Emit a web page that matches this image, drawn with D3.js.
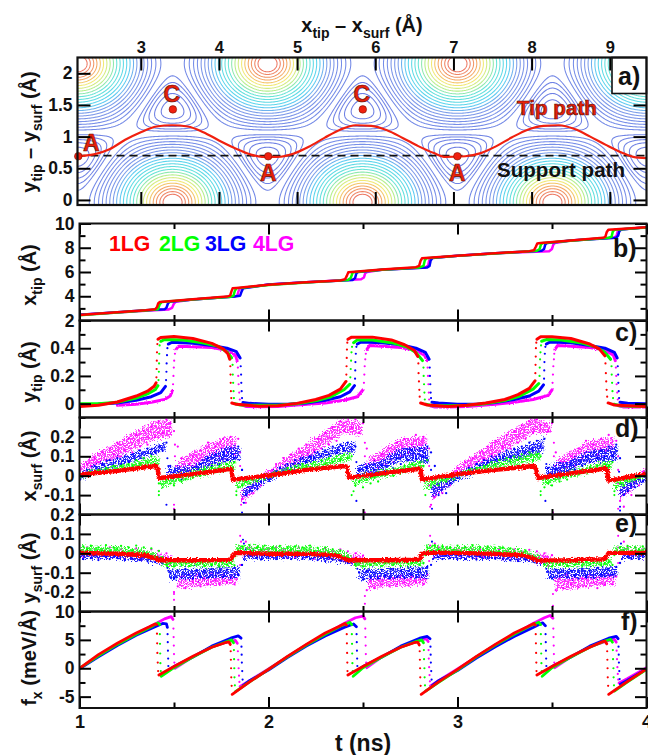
<!DOCTYPE html>
<html><head><meta charset="utf-8">
<script src="https://cdn.jsdelivr.net/npm/d3@7/dist/d3.min.js"></script>
<style>html,body{margin:0;padding:0;background:#fff}svg{display:block}text{font-family:"Liberation Sans",Arial,sans-serif;font-weight:bold;fill:#111}</style>
</head><body><div id="c"></div>
<script>
// ---------- panel a: substrate lattice read from the contour map ----------
// The corrugation map is rendered from a lattice model whose parameters were measured on the picture.
const latticePeak=[3.40,-0.03], latticeA=2.43, latticeH=2.19;
const contourLevels=[.015,.035,.055,.075,.095,.144,.177,.214,.253,.295,.34,.386,.433,.482,.531,.58,.628,.676,.722,.766,.807,.846,.88,.912,.938,.961,.978];
const contourStops=[0,.38,.5,.68,.76,.85,.9,1];
const contourColors=["#5c6fe0","#6f8fe8","#45cdf0","#55e0d0","#a8ec80","#f2e665","#f4a653","#e85a55"];
const tipPathX=[2.19,2.4,2.6,2.8,3.0,3.2,3.4,3.6,3.8,4.0,4.2,4.4,4.55,4.75,4.95,5.15,5.35,5.55,5.75,5.95,6.15,6.35,6.55,6.75,6.9,7.15,7.35,7.55,7.75,7.95,8.15,8.35,8.55,8.75,8.95,9.15,9.3,9.47];
const tipPathY=[.69,.72,.8,.95,1.07,1.16,1.18,1.16,1.07,.94,.82,.72,.68,.68,.73,.84,.98,1.11,1.18,1.17,1.1,.98,.85,.74,.68,.69,.74,.85,.99,1.11,1.17,1.18,1.12,1.0,.87,.75,.68,.66];
const supportY=0.7;
const markerX=[2.2,4.63,7.05,3.41,5.84], markerY=[.69,.69,.69,1.43,1.43];
const markerName=["A","A","A","C","C"], markerDX=[13,0,0,-1,-1], markerDY=[-5,25,25,-7,-7];
const xTopTicks=[3,4,5,6,7,8,9], yTopTicks=[0,.5,1,1.5,2];

// ---------- time series (flat t,v lists; one sub-list per stick or slip segment) ----------
const seriesColors=["#ff00ff","#0000ff","#00ff00","#ff0000"];
const legendNames=["1LG","2LG","3LG","4LG"], legendColors=["#ff0000","#00ff00","#0000ff","#ff00ff"], legendX=[109,159,205,253];
const b_1LG=[1,2.45,1.2,2.68,1.35,2.85,1.4,2.93,1.41,3.1,1.416,3.4,1.425,3.52,1.6,3.75,1.78,3.97,1.797,4.05,1.804,4.4,1.81,4.65,1.83,4.68,2,4.95,2.2,5.15,2.38,5.3,2.405,5.4,2.415,5.7,2.422,5.97,2.44,6.0,2.6,6.2,2.78,6.4,2.797,6.5,2.804,6.9,2.812,7.13,2.83,7.16,3,7.35,3.2,7.55,3.38,7.72,3.405,7.8,3.415,8.1,3.422,8.35,3.44,8.4,3.6,8.6,3.77,8.82,3.782,8.9,3.79,9.3,3.798,9.48,3.82,9.5,4,9.7];
const b_2LG=[1,2.43,1.2,2.65,1.35,2.83,1.415,2.93,1.425,3.35,1.435,3.52,1.6,3.73,1.8,3.96,1.815,4.05,1.822,4.45,1.83,4.65,2,4.93,2.2,5.13,2.42,5.33,2.435,5.5,2.445,5.95,2.46,6.0,2.6,6.18,2.8,6.38,2.82,6.5,2.827,6.95,2.835,7.14,3,7.33,3.2,7.53,3.42,7.75,3.435,7.9,3.442,8.3,3.455,8.4,3.6,8.58,3.8,8.82,3.815,8.9,3.822,9.35,3.83,9.48,4,9.68];
const b_3LG=[1,2.47,1.2,2.68,1.35,2.84,1.45,2.92,1.46,3.05,1.468,3.4,1.476,3.54,1.6,3.73,1.82,3.98,1.85,4.05,1.858,4.4,1.866,4.66,2,4.96,2.2,5.16,2.445,5.35,2.458,5.5,2.465,5.9,2.475,6.0,2.6,6.18,2.84,6.38,2.852,6.5,2.858,6.95,2.868,7.15,3,7.35,3.2,7.55,3.445,7.75,3.458,7.9,3.465,8.3,3.475,8.4,3.6,8.6,3.84,8.83,3.85,9,3.856,9.35,3.865,9.5,4,9.7];
const b_4LG=[1,2.47,1.2,2.66,1.35,2.8,1.47,2.9,1.49,3.05,1.5,3.4,1.51,3.55,1.6,3.73,1.82,3.98,1.835,4.05,1.842,4.45,1.85,4.66,2,4.96,2.2,5.16,2.49,5.4,2.505,5.55,2.512,5.9,2.522,6.0,2.6,6.18,2.83,6.38,2.845,6.55,2.85,6.95,2.86,7.15,3,7.35,3.2,7.55,3.485,7.72,3.5,7.9,3.507,8.25,3.515,8.4,3.6,8.6,3.83,8.85,3.842,9,3.848,9.35,3.858,9.5,4,9.7];

const c_1LG=[[1,-.02,1.1,-.012,1.2,.012,1.3,.055,1.36,.09,1.395,.125,1.405,.15],[1.415,.465,1.43,.478,1.5,.485,1.6,.47,1.7,.435,1.76,.395,1.785,.36,1.795,.32],[1.806,.005,1.83,-.005,1.95,-.018,2.05,-.015,2.15,.002,2.25,.03,2.32,.06,2.38,.105,2.41,.16],[2.42,.465,2.44,.48,2.55,.48,2.65,.46,2.72,.425,2.77,.385,2.79,.34],[2.805,.005,2.84,-.01,2.95,-.02,3.05,-.012,3.15,.005,3.25,.03,3.32,.065,3.38,.11,3.41,.165],[3.42,.465,3.44,.483,3.5,.483,3.6,.47,3.7,.43,3.75,.395,3.78,.345],[3.797,.005,3.83,-.01,3.9,-.015,4,-.02]];
const c_2LG=[[1,0,1.1,0,1.2,.01,1.3,.04,1.36,.07,1.4,.1,1.415,.13],[1.43,.45,1.45,.463,1.55,.46,1.65,.44,1.73,.415,1.78,.375,1.805,.33],[1.822,0,1.85,-.01,1.95,-.012,2.05,-.012,2.15,0,2.25,.02,2.33,.05,2.4,.1,2.43,.14],[2.45,.44,2.47,.46,2.55,.46,2.65,.44,2.73,.41,2.78,.37,2.815,.31],[2.832,-.005,2.87,-.015,2.95,-.015,3.05,-.012,3.15,0,3.25,.022,3.33,.055,3.4,.105,3.43,.145],[3.445,.45,3.47,.462,3.55,.46,3.65,.44,3.73,.41,3.78,.37,3.81,.32],[3.828,-.005,3.86,-.015,3.93,-.018,4,-.02]];
const c_3LG=[[1.1,-.002,1.2,.005,1.3,.025,1.38,.05,1.43,.08,1.455,.125],[1.47,.43,1.49,.443,1.6,.435,1.7,.42,1.78,.4,1.83,.375,1.85,.33],[1.865,.008,1.9,.002,2,-.005,2.1,-.005,2.2,.005,2.3,.025,2.38,.05,2.43,.085,2.455,.13],[2.47,.43,2.49,.445,2.6,.44,2.7,.425,2.78,.4,2.83,.37,2.85,.32],[2.865,.01,2.9,.005,3,-.005,3.1,-.005,3.2,.008,3.3,.03,3.38,.055,3.43,.09,3.455,.135],[3.47,.43,3.49,.445,3.6,.44,3.7,.42,3.78,.4,3.83,.37,3.845,.33],[3.86,.01,3.9,.003,4,0]];
const c_4LG=[[1.2,-.012,1.3,-.005,1.38,.01,1.45,.03,1.48,.055,1.49,.09],[1.51,.39,1.525,.415,1.6,.41,1.7,.405,1.78,.385,1.825,.35,1.835,.31],[1.852,-.005,1.88,-.02,1.95,-.022,2.05,-.02,2.15,-.01,2.3,.005,2.4,.025,2.47,.05,2.5,.1],[2.52,.39,2.535,.42,2.6,.415,2.7,.405,2.78,.385,2.825,.35,2.84,.31],[2.855,-.015,2.88,-.025,2.95,-.025,3.05,-.02,3.2,-.005,3.3,.01,3.4,.03,3.48,.06,3.5,.1],[3.515,.39,3.53,.42,3.6,.415,3.7,.405,3.78,.385,3.825,.35,3.835,.31],[3.852,-.015,3.88,-.025,4,-.025]];
const c_1LG_slip=[1.407,.19,1.408,.25,1.409,.31,1.41,.37,1.412,.43,1.798,.27,1.799,.21,1.8,.15,1.801,.09,1.803,.04,2.412,.21,2.413,.27,2.414,.33,2.415,.39,2.417,.44,2.793,.29,2.794,.22,2.796,.16,2.798,.1,2.8,.05,3.412,.22,3.413,.28,3.414,.34,3.415,.4,3.417,.44,3.783,.29,3.785,.22,3.787,.16,3.789,.1,3.792,.05];
const c_2LG_slip=[1.418,.17,1.42,.23,1.421,.29,1.422,.36,1.424,.42,1.81,.28,1.811,.21,1.813,.15,1.815,.09,1.817,.04,2.433,.19,2.435,.25,2.437,.31,2.439,.37,2.442,.41,2.82,.26,2.821,.2,2.823,.14,2.825,.08,2.827,.03,3.434,.2,3.435,.26,3.437,.32,3.439,.37,3.442,.42,3.815,.27,3.816,.21,3.818,.15,3.82,.09,3.823,.04];
const c_3LG_slip=[1.458,.17,1.46,.23,1.461,.29,1.463,.35,1.465,.4,1.853,.27,1.855,.21,1.856,.15,1.858,.09,1.86,.04,2.458,.18,2.459,.24,2.46,.3,2.462,.36,2.465,.41,2.853,.26,2.854,.2,2.856,.14,2.858,.08,2.86,.04,3.458,.18,3.459,.24,3.46,.3,3.462,.36,3.465,.41,3.848,.27,3.85,.21,3.851,.15,3.853,.09,3.855,.04];
const c_4LG_slip=[1.495,.14,1.497,.2,1.499,.26,1.501,.31,1.505,.36,1.838,.26,1.84,.2,1.842,.14,1.845,.08,1.848,.03,2.505,.15,2.507,.21,2.509,.27,2.512,.32,2.515,.36,2.842,.26,2.844,.2,2.846,.14,2.848,.08,2.85,.03,3.503,.15,3.505,.21,3.507,.27,3.51,.32,3.512,.36,3.838,.26,3.84,.2,3.842,.14,3.845,.08,3.848,.03];

const f_1LG=[[1,0,1.1,2.4,1.2,4.4,1.3,6.2,1.37,7.3,1.4,7.8,1.408,7.7],[1.42,-1.2,1.5,.3,1.6,2.1,1.7,3.7,1.77,4.5,1.79,4.65,1.798,4.2],[1.808,-4.6,1.9,-2.4,2,-.2,2.1,2.1,2.2,4.2,2.3,6.2,2.37,7.3,2.405,7.9,2.412,7.6],[2.42,-1.2,2.5,.3,2.6,2.1,2.7,3.7,2.77,4.5,2.79,4.6,2.798,4.1],[2.808,-4.6,2.9,-2.4,3,-.2,3.1,2.1,3.2,4.2,3.3,6.2,3.37,7.3,3.405,7.9,3.412,7.6],[3.42,-1.2,3.5,.3,3.6,2.1,3.7,3.7,3.76,4.6,3.78,4.8,3.79,4.3],[3.8,-4.6,3.9,-2.3,4,-.1]];
const f_2LG=[[1,0,1.1,2.2,1.2,4.2,1.3,6,1.38,7.3,1.415,8,1.424,7.7],[1.432,-1.4,1.5,.1,1.6,2,1.7,3.7,1.78,4.7,1.805,5,1.815,4.5],[1.825,-4.1,1.9,-2.4,2,-.2,2.1,2,2.2,4.1,2.3,6,2.38,7.4,2.43,8.1,2.44,7.7],[2.448,-1.4,2.5,.1,2.6,2,2.7,3.7,2.78,4.7,2.81,5,2.82,4.5],[2.832,-4,2.9,-2.5,3,-.3,3.1,2,3.2,4.1,3.3,6,3.38,7.4,3.43,8.1,3.44,7.7],[3.448,-1.4,3.5,.1,3.6,2,3.7,3.7,3.78,4.8,3.81,5.1,3.82,4.6],[3.83,-4,3.9,-2.4,4,-.2]];
const f_3LG=[[1,-.1,1.1,2,1.2,4,1.3,5.8,1.4,7.3,1.44,7.9,1.46,7.8,1.465,7.2],[1.473,-.3,1.5,.3,1.6,2,1.7,3.9,1.8,5.3,1.84,5.7,1.855,5.3],[1.867,-3,1.9,-2.2,2,-.3,2.1,1.9,2.2,3.9,2.3,5.7,2.4,7.2,2.45,7.8,2.465,7.3],[2.473,-.3,2.5,.3,2.6,2,2.7,3.9,2.8,5.3,2.84,5.6,2.855,5.2],[2.867,-3,2.9,-2.2,3,-.4,3.1,1.8,3.2,3.8,3.3,5.6,3.4,7.2,3.45,8,3.465,7.5],[3.473,-.3,3.5,.3,3.6,2,3.7,3.9,3.8,5.3,3.84,5.6,3.85,5.2],[3.862,-2.8,3.9,-2.1,4,-.1]];
const f_4LG=[[1.3,6.1,1.4,7.8,1.45,8.7,1.485,9.1,1.495,8.6],[1.505,0,1.6,2,1.7,3.8,1.8,4.8,1.825,4.9,1.835,4.4],[1.85,-3.2,1.9,-2.2,2,-.1,2.1,2,2.2,4.1,2.3,6,2.4,7.9,2.46,8.9,2.5,9.2,2.51,8.7],[2.52,.1,2.6,2,2.7,3.8,2.8,4.9,2.835,5.2,2.845,4.7],[2.857,-3.1,2.9,-2.2,3,-.1,3.1,2,3.2,4.1,3.3,6,3.4,7.9,3.46,8.9,3.49,9.3,3.505,8.8],[3.515,.1,3.6,2,3.7,3.8,3.8,4.9,3.83,5.1,3.84,4.6],[3.855,-2.6,3.9,-1.8,4,.1]];
const f_1LG_slip=[1.41,6.1,1.411,4.4,1.412,2.7,1.414,1,1.416,-.5,1.8,3,1.801,1.5,1.802,0,1.803,-1.6,1.805,-3.1,2.414,6,2.415,4.4,2.416,2.7,2.417,1,2.418,-.5,2.8,3,2.801,1.5,2.802,0,2.803,-1.6,2.805,-3.1,3.414,6,3.415,4.4,3.416,2.7,3.417,1,3.418,-.5,3.792,3,3.793,1.5,3.794,0,3.795,-1.6,3.797,-3.1];
const f_2LG_slip=[1.425,6,1.426,4.3,1.427,2.6,1.428,.9,1.43,-.5,1.817,3.2,1.818,1.6,1.819,0,1.82,-1.6,1.822,-3,2.441,6,2.442,4.3,2.443,2.6,2.444,.9,2.446,-.5,2.822,3.2,2.823,1.6,2.825,0,2.826,-1.6,2.828,-3,3.441,6,3.442,4.3,3.443,2.6,3.444,.9,3.446,-.5,3.822,3.2,3.823,1.6,3.825,0,3.826,-1.6,3.828,-3];
const f_3LG_slip=[1.466,6,1.467,4.6,1.468,3.1,1.469,1.7,1.47,.4,1.857,3.8,1.858,2.4,1.859,1,1.861,-.5,1.863,-2,2.466,6,2.467,4.6,2.468,3.1,2.469,1.7,2.47,.4,2.857,3.8,2.858,2.4,2.859,1,2.861,-.5,2.863,-2,3.466,6,3.467,4.6,3.468,3.1,3.469,1.7,3.47,.4,3.852,3.8,3.853,2.4,3.854,1,3.856,-.5,3.858,-1.9];
const f_4LG_slip=[1.497,7,1.498,5.5,1.499,4,1.5,2.5,1.502,1,1.838,3,1.84,1.5,1.842,0,1.844,-1.3,1.846,-2.4,2.512,7,2.513,5.5,2.514,4,2.515,2.5,2.517,1,2.847,3.2,2.848,1.7,2.85,.2,2.852,-1.2,2.854,-2.3,3.507,7,3.508,5.5,3.509,4,3.51,2.5,3.512,1,3.842,3.1,3.844,1.6,3.846,.2,3.848,-1,3.85,-2];

// x_surf: bands (t,lo,hi), individual samples every 0.02 ns from t=1 (one row = 0.2 ns), stray samples
const d_1LG=[1,.005,1.2,.025,1.4,.05,1.41,.048,1.422,-.012,1.6,.008,1.8,.035,1.804,.033,1.812,-.02,2,.001,2.2,.03,2.4,.05,2.414,.047,2.425,-.01,2.6,.012,2.8,.036,2.804,.034,2.812,-.02,3,.008,3.2,.03,3.4,.05,3.414,.047,3.425,-.012,3.6,.012,3.78,.037,3.79,.034,3.8,-.025,4,.01];
const d_2LG_band=[[1,-.01,.012,1.2,.025,.05,1.4,.055,.095,1.425,.06,.1],[1.435,-.06,-.005,1.55,-.03,.012,1.7,.008,.05,1.8,.03,.07,1.825,.03,.08],[1.832,-.07,-.03,1.9,-.04,-.01,2,-.012,.012,2.2,.03,.06,2.4,.07,.11,2.44,.08,.12],[2.45,-.05,0,2.55,-.02,.015,2.7,.01,.05,2.82,.04,.08],[2.83,-.07,-.03,2.9,-.04,-.01,3,-.008,.015,3.2,.035,.065,3.4,.075,.115,3.44,.08,.12],[3.45,-.055,-.005,3.55,-.02,.015,3.7,.012,.05,3.82,.04,.08],[3.83,-.07,-.03,3.9,-.04,-.012,4,-.005,.02]];
const d_3LG_band=[[1,-.03,.012,1.1,.02,.06,1.2,.05,.09,1.3,.08,.12,1.4,.11,.15,1.458,.13,.175],[1.47,-.02,.04,1.6,0,.05,1.7,.05,.11,1.8,.08,.15,1.855,.08,.14],[1.868,-.115,-.07,1.95,-.06,-.02,2,-.03,.012,2.2,.06,.1,2.4,.12,.167,2.46,.12,.17],[2.472,-.012,.05,2.6,.02,.08,2.7,.08,.14,2.85,.06,.15],[2.866,-.115,-.04,2.95,-.06,-.02,3,-.03,.012,3.2,.06,.1,3.4,.09,.165,3.46,.13,.2],[3.472,-.02,.05,3.6,.02,.08,3.7,.07,.13,3.85,.07,.15],[3.862,-.11,-.05,3.95,-.05,-.01,4,-.03,.02]];
const d_4LG_band=[[1,0,.05,1.1,.06,.12,1.2,.09,.17,1.3,.14,.23,1.4,.19,.28,1.49,.2,.29],[1.52,-.01,.07,1.65,.03,.15,1.75,.07,.19,1.83,.09,.2],[1.86,-.14,-.07,1.93,-.08,-.03,2,-.02,.03,2.2,.09,.16,2.4,.22,.295,2.5,.21,.27],[2.53,.03,.09,2.7,.1,.19,2.84,.1,.2],[2.87,-.13,-.06,2.95,-.06,-.01,3,.015,.045,3.2,.095,.18,3.4,.22,.295,3.5,.22,.27],[3.53,.02,.085,3.7,.09,.18,3.83,.1,.2],[3.86,-.13,-.07,3.93,-.07,-.02,4,0,.04]];
const d_2LG_pts=[-.01,.01,0,.02,.01,.03,.02,.04,.03,.05,
 .03,.05,.04,.06,.05,.08,.06,.09,.07,.1,
 .06,-.04,-.06,-.02,-.04,-.05,-.01,-.03,-.02,0,
 -.01,.01,0,.03,.02,.04,.02,.05,.03,.06,
 .04,.07,-.06,-.05,-.03,-.04,-.02,-.03,-.01,-.02,
 -.01,0,.01,.02,.02,.04,.03,.05,.04,.06,
 .05,.03,.07,.04,.08,.06,.09,.07,.1,.08,
 .11,.09,.1,-.05,-.03,-.06,-.02,-.04,-.01,-.03,
 0,.01,.02,0,.03,.02,.05,.03,.06,.04,
 .07,.05,.08,-.06,-.04,-.05,-.02,-.03,-.01,-.02,
 0,.01,.01,.03,.02,.04,.04,.05,.05,.07,
 .06,.08,.06,.09,.07,.1,.08,.11,.09,.12,
 .08,.11,.1,-.06,-.04,-.05,-.02,-.03,-.01,-.02,
 0,.02,.01,.03,.02,.04,.03,.05,.04,.06,
 .05,.07,-.06,-.04,-.05,-.03,-.02,-.02,-.01,0];
const d_3LG_pts=[-.02,0,.03,.01,.05,.03,.06,.04,.08,.05,
 .09,.06,.1,.07,.11,.08,.13,.09,.14,.11,
 .12,.15,.13,.17,.05,-.01,.02,-.02,.03,0,
 .04,.01,.06,.03,.09,.05,.11,.06,.12,.08,
 .14,.09,.15,.03,-.1,-.08,-.05,-.07,-.03,-.02,
 -.02,.01,.02,.04,.03,.06,.04,.08,.06,.09,
 .07,.1,.09,.12,.1,.13,.11,.15,.12,.16,
 .13,.17,.14,.15,.03,0,.04,-.01,.03,.02,
 .05,.02,.07,.04,.09,.06,.11,.08,.13,.09,
 .14,.1,.15,.12,.05,-.1,-.07,-.09,-.04,-.02,
 -.01,.02,.01,.04,.03,.06,.05,.08,.07,.1,
 .08,.11,.09,.13,.1,.14,.11,.15,.12,.17,
 .13,.18,.15,.19,.04,.01,.03,-.01,.05,.02,
 .06,.03,.08,.05,.1,.07,.12,.09,.13,.1,
 .15,.1,.16,.09,-.1,-.08,-.05,-.06,-.02,-.03];
const d_4LG_pts=[.03,.01,.06,.05,.09,.07,.12,.08,.14,.11,
 .17,.1,.13,.19,.12,.21,.15,.23,.16,.25,
 .2,.28,.22,.29,.27,.23,.15,.09,.03,.06,
 .1,.04,.13,.08,.17,.06,.15,.1,.19,.12,
 .2,.11,.19,-.12,-.14,-.06,-.09,-.03,-.05,.01,
 -.01,.03,.06,.02,.09,.05,.11,.06,.14,.09,
 .16,.1,.13,.19,.14,.22,.16,.25,.18,.28,
 .23,.3,.25,.29,.22,.27,.14,.02,.08,.04,
 .11,.06,.14,.07,.17,.1,.19,.12,.16,.21,
 .11,.2,.08,-.15,-.11,-.06,-.09,-.03,-.05,0,
 .04,.02,.07,.05,.09,.06,.12,.09,.15,.11,
 .18,.1,.15,.21,.14,.23,.17,.26,.19,.28,
 .22,.29,.26,.3,.23,.27,.12,.02,.07,.04,
 .1,.05,.14,.09,.18,.07,.16,.11,.19,.13,
 .21,.1,.18,-.13,-.16,-.08,-.1,-.03,-.05,.02];
const d_2LG_stray=[1.42,-.1,1.42,-.08,1.43,-.04,1.83,-.1,1.83,-.08,2.44,-.1,2.45,-.08,2.83,-.1,3.44,-.1,3.44,-.08,3.83,-.1,3.83,-.08];
const d_3LG_stray=[1.46,-.15,1.465,.09,1.47,.05,1.86,-.19,1.86,.03,1.87,-.14,2.465,-.13,2.465,.07,2.86,.03,2.865,-.17,3.465,-.13,3.47,.06,3.855,.02,3.86,-.16,3.86,-.18];
const d_4LG_stray=[1.5,-.15,1.5,-.17,1.505,.16,1.505,.1,1.51,.05,1.85,.12,1.85,.05,1.85,-.02,1.855,-.15,2.51,-.19,2.51,.17,2.51,.1,2.515,.06,2.85,.14,2.85,.05,2.85,-.05,2.855,-.16,3.505,-.19,3.51,.17,3.51,.1,3.515,.05,3.85,.1,3.85,.03,3.85,-.04,3.85,-.17];

// y_surf
const e_1LG=[1,.002,1.2,-.002,1.35,-.01,1.41,-.03,1.425,-.036,1.6,-.036,1.8,-.034,1.815,-.005,1.83,.002,2,-.002,2.2,-.003,2.35,-.01,2.41,-.03,2.425,-.036,2.6,-.036,2.8,-.033,2.812,-.003,2.83,.002,3,.002,3.2,-.003,3.35,-.01,3.41,-.03,3.425,-.037,3.6,-.036,3.78,-.03,3.8,.002,4,.002];
const e_2LG_band=[[1,0,.035,1.2,0,.033,1.35,-.018,.02,1.42,-.035,-.005],[1.44,-.07,-.035,1.82,-.065,-.03],[1.83,.002,.04,2.2,0,.035,2.35,-.015,.02,2.44,-.035,-.005],[2.455,-.07,-.035,2.82,-.062,-.03],[2.835,.002,.04,3.2,0,.035,3.35,-.015,.02,3.44,-.04,-.005],[3.455,-.07,-.035,3.82,-.065,-.03],[3.835,.002,.035,4,-.003,.03]];
const e_3LG_band=[[1,-.03,0,1.2,-.03,-.003,1.35,-.04,-.01,1.46,-.06,-.03],[1.48,-.135,-.085,1.85,-.125,-.07],[1.875,-.03,.012,2.2,-.03,-.002,2.35,-.04,-.012,2.46,-.06,-.03],[2.48,-.135,-.085,2.85,-.125,-.07],[2.875,-.03,.012,3.2,-.03,-.002,3.35,-.04,-.012,3.46,-.06,-.03],[3.48,-.13,-.085,3.85,-.12,-.07],[3.875,-.03,.012,4,-.03,0]];
const e_4LG_band=[[1,-.02,.02,1.2,-.025,.015,1.35,-.035,.012,1.49,-.065,-.01],[1.525,-.18,-.105,1.84,-.155,-.1],[1.87,-.02,.03,2.2,-.025,.015,2.35,-.035,.012,2.5,-.065,-.01],[2.53,-.18,-.115,2.84,-.16,-.11],[2.87,-.02,.03,3.2,-.025,.015,3.35,-.035,.01,3.495,-.065,-.01],[3.52,-.19,-.105,3.84,-.16,-.1],[3.87,-.02,.03,4,-.03,.02]];
const e_2LG_pts=[.01,.035,.02,.04,.005,.03,.015,.042,.01,.03,
 .02,.038,.003,.03,.015,.04,.01,.03,-.005,.025,
 -.015,.012,-.02,-.06,-.05,-.068,-.04,-.06,-.048,-.065,
 -.04,-.058,-.05,-.065,-.04,-.06,-.045,-.068,-.04,-.058,
 -.05,-.062,.01,.035,.005,.042,.015,.03,.02,.04,
 .005,.03,.015,.038,.01,.028,.02,.035,.005,.03,
 .018,.04,.01,.028,.005,.03,0,.02,-.005,.015,
 -.02,-.025,-.03,-.06,-.045,-.068,-.04,-.06,-.05,-.042,
 -.065,-.05,-.04,-.06,-.048,-.066,-.04,-.055,-.05,-.04,
 -.06,-.05,.03,.012,.042,.02,.035,.008,.03,.018,
 .04,.01,.032,.02,.04,.005,.03,.015,.036,.008,
 .028,.01,.03,.005,.025,0,.02,-.005,.015,-.01,
 -.02,-.03,-.03,-.06,-.045,-.068,-.04,-.058,-.05,-.065,
 -.04,-.06,-.048,-.066,-.042,-.058,-.05,-.04,-.06,-.05,
 -.045,-.06,.01,.03,.015,.038,.01,.03,.02,.035];
const e_3LG_pts=[-.02,-.03,-.005,-.025,-.012,-.035,-.006,-.02,-.03,-.01,
 -.025,-.005,-.035,-.012,-.028,-.008,-.035,-.015,-.04,-.012,
 -.045,-.025,-.052,-.035,-.1,-.13,-.09,-.125,-.08,-.11,
 -.13,-.085,-.12,-.09,-.125,-.08,-.115,-.07,-.12,-.085,
 -.125,-.075,-.11,-.06,.02,-.01,.015,-.02,-.032,-.01,
 -.025,-.005,-.03,-.012,-.022,-.008,-.03,-.015,-.006,-.028,
 -.012,-.03,-.005,-.035,-.015,-.04,-.02,-.033,-.012,-.038,
 -.03,-.05,-.04,-.055,-.1,-.135,-.09,-.125,-.1,-.13,
 -.085,-.115,-.13,-.08,-.12,-.09,-.128,-.075,-.11,-.125,
 -.08,-.115,-.07,-.06,.01,-.02,-.03,-.008,-.025,-.003,
 -.028,-.012,-.03,-.006,-.022,-.032,-.015,-.006,-.025,-.01,
 -.028,-.006,-.03,-.012,-.036,-.015,-.04,-.02,-.032,-.01,
 -.03,-.05,-.04,-.055,-.095,-.13,-.085,-.12,-.09,-.125,
 -.09,-.115,-.13,-.08,-.12,-.09,-.125,-.075,-.11,-.12,
 -.08,-.11,-.07,-.05,.015,-.02,-.028,-.006,-.03,-.012];
const e_4LG_pts=[.01,-.02,.03,-.01,.02,-.025,.015,-.02,.03,0,
 -.02,.02,-.03,.01,-.015,.025,-.03,.01,-.02,.02,
 -.03,.01,-.05,0,-.06,-.2,-.17,-.12,-.18,-.11,
 -.15,-.11,-.17,-.13,-.16,-.1,-.14,-.16,-.11,-.15,
 -.12,-.16,-.11,0,.06,.03,-.01,.03,-.01,.02,
 .02,-.02,.03,-.015,.02,-.025,.015,-.02,.03,0,
 -.02,.02,-.03,.01,-.015,.025,-.03,.01,-.02,.02,
 -.035,.01,-.05,0,-.06,-.012,-.19,-.14,-.18,-.12,
 -.16,-.115,-.17,-.13,-.16,-.115,-.15,-.165,-.12,-.15,
 -.125,-.16,-.11,.005,.05,.03,-.01,.03,-.01,.02,
 .015,-.02,.03,-.015,.02,-.025,.02,-.02,.03,0,
 -.02,.02,-.03,.012,-.02,.02,-.035,.01,-.02,.018,
 -.04,.01,-.05,0,-.065,-.01,-.19,-.13,-.18,-.11,
 -.16,-.12,-.175,-.13,-.17,-.11,-.15,-.18,-.12,-.16,
 -.11,-.16,-.12,.01,.06,.03,-.01,.03,-.015,.02];
const e_2LG_stray=[1.425,-.04,1.43,-.02,1.825,0,1.825,-.015,2.445,-.04,2.83,-.01,3.44,-.04,3.83,-.01];
const e_3LG_stray=[1.465,-.075,1.47,-.09,1.865,.07,1.87,.05,1.87,-.03,1.86,-.06,2.47,-.08,2.865,.06,2.87,-.03,3.47,-.08,3.865,.05,3.87,-.03];
const e_4LG_stray=[1.5,-.24,1.5,-.21,1.85,.09,1.855,.06,1.85,.03,1.85,-.06,2.51,-.26,2.51,-.22,2.855,.09,2.855,.04,2.85,-.04,3.505,-.27,3.505,-.21,3.85,.09,3.855,.12,3.85,.03,3.85,-.05];

const tMajor=[1,2,3,4], tMinor=[1.5,2.5,3.5];
const bMajor=[2,4,6,8,10], bMinor=[3,5,7,9];
const cMajor=[0,.2,.4], cMinor=[-.1,.1,.3,.5];
const dMajor=[-.1,0,.1,.2], eMajor=[-.2,-.1,0,.1,.2];
const fMajor=[-5,0,5,10], fMinor=[-2.5,2.5,7.5];

// ---------- layout ----------
const W=648,H=755,L=79.5,R=646.5;
const svg=d3.select("#c").append("svg").attr("width",W).attr("height",H);
const tScale=d3.scaleLinear().domain([1,4]).range([L,R]);
const fmt=v=>v===0?"0":String(v);
const pairs=a=>d3.range(0,a.length,2).map(i=>[a[i],a[i+1]]);
const triples=a=>d3.range(0,a.length,3).map(i=>[a[i],a[i+1],a[i+2]]);
const defs=svg.append("defs");
// film-grain styling for the densest scatter clouds
function grainFilter(id,scale,holes){
  const f=defs.append("filter").attr("id",id).attr("filterUnits","userSpaceOnUse").attr("x",0).attr("y",0).attr("width",W).attr("height",H).attr("color-interpolation-filters","sRGB");
  f.append("feTurbulence").attr("type","fractalNoise").attr("baseFrequency",.75).attr("numOctaves",2).attr("seed",4).attr("result","n");
  f.append("feDisplacementMap").attr("in","SourceGraphic").attr("in2","n").attr("scale",scale).attr("xChannelSelector","R").attr("yChannelSelector","G").attr("result","d");
  if(holes){
    f.append("feColorMatrix").attr("in","n").attr("type","matrix").attr("values","0 0 0 0 0 0 0 0 0 0 0 0 0 0 0 8 0 0 0 -3.2").attr("result","m");
    f.append("feComposite").attr("in","d").attr("in2","m").attr("operator","in");
  }
}
grainFilter("grainBand",11,true);
grainFilter("grainLine",4,false);
grainFilter("grainThin",2.5,false);

// panel a
const aL=77.5,aR=646.5,aT=57.5,aB=205;
const ax=d3.scaleLinear().domain([2.19,9.47]).range([aL,aR]);
const ay=d3.scaleLinear().domain([-.08,2.25]).range([aB,aT]);
defs.append("clipPath").attr("id","clipA").append("rect").attr("x",aL).attr("y",aT).attr("width",aR-aL).attr("height",aB-aT);
const gA=svg.append("g");
const pad=8,gw=Math.ceil(aR-aL)+2*pad,gh=Math.ceil(aB-aT)+2*pad,field=new Float64Array(gw*gh);
for(let j=0;j<gh;j++)for(let i=0;i<gw;i++){
  const X=ax.invert(aL-pad+i)-latticePeak[0],Y=ay.invert(aT-pad+j)-latticePeak[1];
  const v=Y/latticeH,u=X/latticeA-v/2;
  field[j*gw+i]=(Math.cos(2*Math.PI*u)+Math.cos(2*Math.PI*v)+Math.cos(2*Math.PI*(u+v))+1.5)/4.5;
}
const contourColor=d3.scaleLinear().domain(contourStops).range(contourColors);
const contourGen=d3.contours().size([gw,gh]).thresholds(contourLevels);
const path=d3.geoPath(d3.geoIdentity().translate([aL-pad,aT-pad]));
gA.append("g").attr("clip-path","url(#clipA)").selectAll("path").data(contourGen(field)).join("path")
  .attr("d",path).attr("fill","none").attr("stroke",d=>contourColor(d.value)).attr("stroke-width",1.05).attr("stroke-opacity",.9);
gA.append("line").attr("x1",aL).attr("x2",aR).attr("y1",ay(supportY)).attr("y2",ay(supportY)).attr("stroke","#111").attr("stroke-width",1.7).attr("stroke-dasharray","8,5");
const tipLine=d3.line().x(d=>ax(d[0])).y(d=>ay(d[1])).curve(d3.curveMonotoneX);
gA.append("path").attr("clip-path","url(#clipA)").attr("d",tipLine(d3.zip(tipPathX,tipPathY))).attr("fill","none").attr("stroke","#f0200f").attr("stroke-width",2.2);
gA.selectAll("circle").data(markerX).join("circle").attr("cx",d=>ax(d)).attr("cy",(d,i)=>ay(markerY[i])).attr("r",3.8).attr("fill","#f0200f").attr("stroke","#7a1000").attr("stroke-width",.6);
const redText=s=>s.style("fill","#e8200a").attr("stroke","#5a0c00").attr("stroke-width",.6);
markerName.forEach((n,i)=>{gA.append("text").text(n).attr("x",ax(markerX[i])+markerDX[i]).attr("y",ay(markerY[i])+markerDY[i]).attr("text-anchor","middle").attr("font-size",23).call(redText);});
gA.append("text").text("Tip path").attr("x",517).attr("y",115).attr("font-size",19.5).attr("textLength",80).attr("lengthAdjust","spacingAndGlyphs").call(redText);
gA.append("text").text("Support path").attr("x",497).attr("y",177).attr("font-size",20).attr("textLength",128).attr("lengthAdjust","spacingAndGlyphs");
// boxes and axes helper
function yAxes(g,sc,left,right,major,minor,size,minorSize,labels){
  const la=d3.axisLeft(sc).tickValues(major).tickSize(-size).tickPadding(5).tickFormat(labels?fmt:"");
  const ra=d3.axisRight(sc).tickValues(major).tickSize(-size).tickFormat("");
  const style=s=>{s.select(".domain").remove();s.selectAll("line").attr("stroke","#000").attr("stroke-width",2);s.selectAll("text").attr("font-size",labels);};
  g.append("g").attr("transform",`translate(${left},0)`).call(la).call(style);
  g.append("g").attr("transform",`translate(${right},0)`).call(ra).call(style);
  if(minor){
    g.append("g").attr("transform",`translate(${left},0)`).call(d3.axisLeft(sc).tickValues(minor).tickSize(-minorSize).tickFormat("")).call(style);
    g.append("g").attr("transform",`translate(${right},0)`).call(d3.axisRight(sc).tickValues(minor).tickSize(-minorSize).tickFormat("")).call(style);
  }
}
function xAxes(g,sc,topY,bottomY,major,minor,size,minorSize,labelSide,fs){
  const style=s=>{s.select(".domain").remove();s.selectAll("line").attr("stroke","#000").attr("stroke-width",2);s.selectAll("text").attr("font-size",fs);};
  g.append("g").attr("transform",`translate(0,${topY})`).call(d3.axisTop(sc).tickValues(major).tickSize(-size).tickPadding(5).tickFormat(labelSide==="top"?d3.format("d"):"")).call(style);
  g.append("g").attr("transform",`translate(0,${bottomY})`).call(d3.axisBottom(sc).tickValues(major).tickSize(-size).tickPadding(7.5).tickFormat(labelSide==="bottom"?d3.format("d"):"")).call(style);
  if(minor){
    g.append("g").attr("transform",`translate(0,${topY})`).call(d3.axisTop(sc).tickValues(minor).tickSize(-minorSize).tickFormat("")).call(style);
    g.append("g").attr("transform",`translate(0,${bottomY})`).call(d3.axisBottom(sc).tickValues(minor).tickSize(-minorSize).tickFormat("")).call(style);
  }
}
xAxes(gA,ax,aT,aB,xTopTicks,null,13,0,"top",16.5);
yAxes(gA,ay,aL,aR,yTopTicks,null,13,0,17.5);
gA.append("rect").attr("x",aL+534.5).attr("y",aT).attr("width",aR-aL-534.5).attr("height",36).attr("fill","#fff").attr("stroke","#111").attr("stroke-width",1.6);
gA.append("rect").attr("x",aL).attr("y",aT).attr("width",aR-aL).attr("height",aB-aT).attr("fill","none").attr("stroke","#111").attr("stroke-width",2.2);

// panels b-f
const panelTop=[223.5,320.5,417.5,514.5,611.5],panelBottom=[320.5,417.5,514.5,611.5,708];
const domains=[[2,10],[-.1,.6],[-.2,.3],[-.3,.2],[-7,10]];
const scales=domains.map((d,i)=>d3.scaleLinear().domain(d).range([panelBottom[i],panelTop[i]]));
panelTop.forEach((t,i)=>{defs.append("clipPath").attr("id","clipP"+i).append("rect").attr("x",L).attr("y",t).attr("width",R-L).attr("height",panelBottom[i]-t);});
const panelG=panelTop.map(()=>svg.append("g"));
const marks=panelTop.map((t,i)=>panelG[i].append("g").attr("clip-path",`url(#clipP${i})`));
const lineFor=i=>d3.line().x(d=>tScale(d[0])).y(d=>scales[i](d[1]));
function drawDots(g,i,list,color,r){g.append("g").attr("fill",color).selectAll("circle").data(list).join("circle").attr("cx",d=>tScale(d[0])).attr("cy",d=>scales[i](d[1])).attr("r",r);}
function drawLine(g,i,flat,color,w){return g.append("path").attr("d",lineFor(i)(pairs(flat))).attr("fill","none").attr("stroke",color).attr("stroke-width",w).attr("stroke-linejoin","round").attr("stroke-linecap","round");}
// b
[b_4LG,b_3LG,b_2LG,b_1LG].forEach((s,k)=>drawLine(marks[0],0,s,seriesColors[k],2.5));
// c and f: solid tracks plus sparse samples during the slip
[[1,[c_4LG,c_3LG,c_2LG,c_1LG],[c_4LG_slip,c_3LG_slip,c_2LG_slip,c_1LG_slip],3],[4,[f_4LG,f_3LG,f_2LG,f_1LG],[f_4LG_slip,f_3LG_slip,f_2LG_slip,f_1LG_slip],2.8]].forEach(([i,tracks,slips,w])=>{
  tracks.forEach((segs,k)=>{
    const g=marks[i].append("g");
    if(i===1&&k===0)g.attr("filter","url(#grainThin)");
    segs.forEach(s=>drawLine(g,i,s,seriesColors[k],w));
    drawDots(marks[i],i,pairs(slips[k]),seriesColors[k],1.1);
  });
});
// d and e: scatter clouds
const cloud=["#ff2cff","#1c1cff","#2cff2c"];
const ptT=d3.range(150).map(i=>1+i*.02);
[[2,[d_4LG_band,d_3LG_band,d_2LG_band],[d_4LG_pts,d_3LG_pts,d_2LG_pts],[d_4LG_stray,d_3LG_stray,d_2LG_stray],d_1LG],
 [3,[e_4LG_band,e_3LG_band,e_2LG_band],[e_4LG_pts,e_3LG_pts,e_2LG_pts],[e_4LG_stray,e_3LG_stray,e_2LG_stray],e_1LG]].forEach(([i,bands,pts,stray,red])=>{
  const area=d3.area().x(d=>tScale(d[0])).y0(d=>scales[i](d[1])).y1(d=>scales[i](d[2]));
  bands.forEach((segs,k)=>{
    const g=marks[i].append("g").attr("filter","url(#grainBand)");
    segs.forEach(s=>g.append("path").attr("d",area(triples(s))).attr("fill",cloud[k]));
    drawDots(marks[i],i,d3.zip(ptT,pts[k]),seriesColors[k],1.15);
    drawDots(marks[i],i,pairs(stray[k]),seriesColors[k],1.05);
  });
  drawLine(marks[i].append("g").attr("filter","url(#grainLine)"),i,red,"#ff0000",4.4);
});
const majors=[bMajor,cMajor,dMajor,eMajor,fMajor],minors=[bMinor,cMinor,null,null,fMinor];
panelTop.forEach((t,i)=>{
  xAxes(panelG[i],tScale,t,panelBottom[i],tMajor,tMinor,11,5.5,i===4?"bottom":"none",18);
  yAxes(panelG[i],scales[i],L,R,majors[i],minors[i],11.5,6,17.5);
  panelG[i].append("rect").attr("x",L).attr("y",t).attr("width",R-L).attr("height",panelBottom[i]-t).attr("fill","none").attr("stroke","#111").attr("stroke-width",2);
});
// legend
legendNames.forEach((n,i)=>svg.append("text").text(n).attr("x",legendX[i]).attr("y",251).attr("font-size",21.3).style("fill",legendColors[i]));
// panel letters
const letters=["a)","b)","c)","d)","e)","f)"],letterX=[618,613,615,615,615,621],letterY=[85,257,341,437,532,630];
letters.forEach((s,i)=>svg.append("text").text(s).attr("x",letterX[i]).attr("y",letterY[i]).attr("font-size",25));
// titles with subscripts
function rich(parent,parts,size){parts.forEach(p=>{const ts=parent.append("tspan").text(p[0]);if(p[1]){ts.attr("font-size",size*.7).attr("dy",size*.28);}else{ts.attr("font-size",size).attr("dy",p[2]?-size*.28:0);}});}
function yTitle(cy,x,parts,size){const t=svg.append("text").attr("transform",`translate(${x},${cy}) rotate(-90)`).attr("text-anchor","middle");rich(t,parts,size);}
yTitle(132,36,[["y"],["tip",1],[" – y",0,1],["surf",1],[" (Å)",0,1]],20);
yTitle(275,36,[["x"],["tip",1],[" (Å)",0,1]],20);
yTitle(372,36,[["y"],["tip",1],[" (Å)",0,1]],20);
yTitle(466,36,[["x"],["surf",1],[" (Å)",0,1]],20);
yTitle(568,36,[["y"],["surf",1],[" (Å)",0,1]],20);
yTitle(658,36,[["f"],["x",1],[" (meV/Å)",0,1]],20);
const topTitle=svg.append("text").attr("x",362).attr("y",32).attr("text-anchor","middle");
rich(topTitle,[["x"],["tip",1],[" – x",0,1],["surf",1],[" (Å)",0,1]],20);
svg.append("text").text("t (ns)").attr("x",363).attr("y",751).attr("text-anchor","middle").attr("font-size",23);
</script></body></html>
